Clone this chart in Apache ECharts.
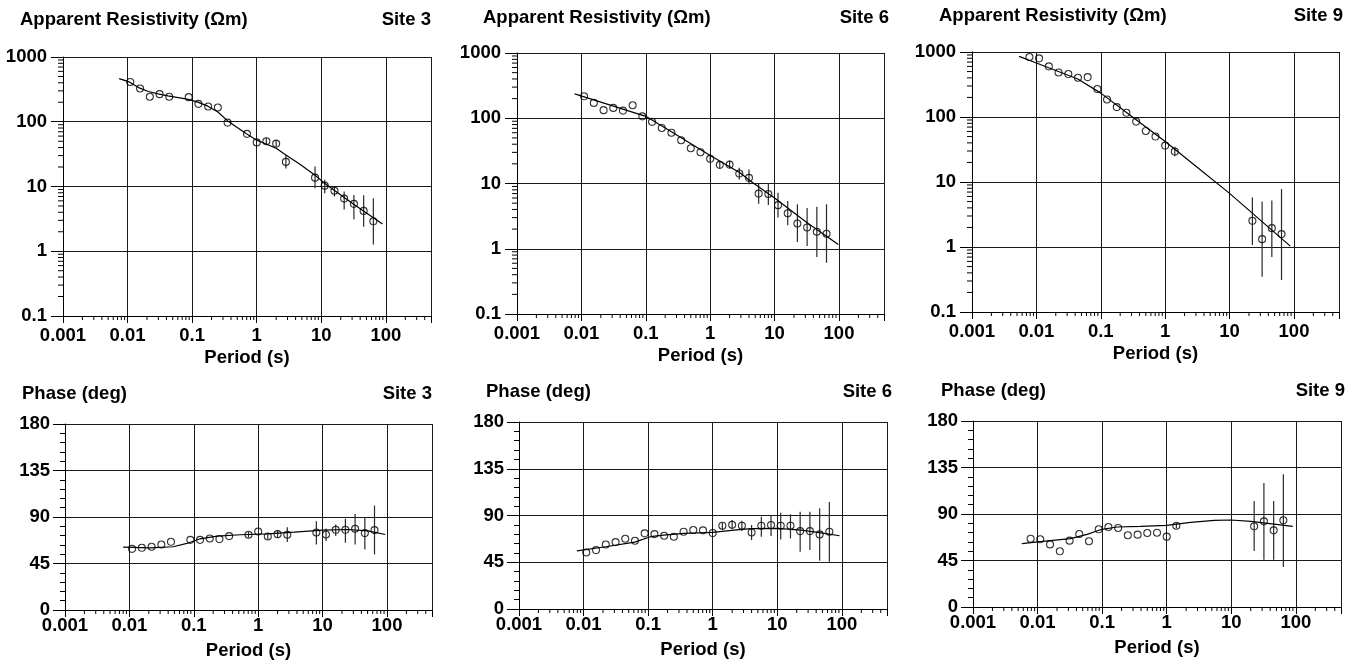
<!DOCTYPE html>
<html><head><meta charset="utf-8">
<script src="https://cdn.jsdelivr.net/npm/echarts@6/dist/echarts.min.js"></script>
<style>html,body{margin:0;padding:0;background:#fff}#c{width:1363px;height:668px}</style>
</head><body><div id="c"></div>
<script>
// ---------- tick labels ----------
const xTickLabels = ['0.001','0.01','0.1','1','10','100'];
const rhoTickLabels = ['0.1','1','10','100','1000'];
const phaseTickLabels = ['0','45','90','135','180'];
const siteNames = ['Site 3','Site 6','Site 9'];

// ---------- Site 3 ----------
const site3Periods = [0.011,0.0156,0.0221,0.0313,0.0442,0.0884,0.125,0.177,0.25,0.354,0.707,1,1.41,2,2.83,8,11.3,16,22.6,32,45.3,64];
const site3Rho = [412,326,243,267,243,240,189,172,166,97,65,48,50,46,24,13.7,10.3,8.6,6.5,5.4,4.2,2.9];
const site3RhoLow = [null,null,null,null,null,null,null,null,null,null,null,null,45,41,19,9.4,7.9,7.0,4.4,3.1,2.4,1.27];
const site3RhoHigh = [null,null,null,null,null,null,null,null,null,null,null,null,56,52,30.7,20.3,12.7,9.8,8.4,7.4,7.3,6.6];
const site3Phase = [59.2,60.2,61.2,63.4,66.0,67.9,67.9,69.2,68.6,71.5,72.8,76.0,71.2,73.4,72.8,75.0,73.1,77.6,77.6,78.6,74.4,77.3];
const site3PhaseLow = [null,null,null,null,null,null,null,null,null,null,70,null,68,70,65.7,63.4,66.7,71.5,65,63.4,58.6,53.8];
const site3PhaseHigh = [null,null,null,null,null,null,null,null,null,null,75.5,null,74.5,77,80.2,86,78.9,82.8,88.2,93,89.2,101];
const site3CurveT = [0.00741,0.0106,0.0148,0.021,0.0297,0.042,0.084,0.1225,0.175,0.248,0.351,0.682,1,2,2.83,4.85,7.9,11.2,31.3,88.7];
const site3CurveRho = [464,412,337,293,270,251,223,201,174,143,104,66,52,39,30.7,21.5,15.1,11.2,5.35,2.64];
const site3CurvePhaseT = [0.008,0.0208,0.048,0.078,0.126,0.229,0.53,1.38,3.61,10.1,24.6,50.5,94];
const site3CurvePhase = [60.9,60.2,61.2,64.4,68.9,71.5,72.8,73.7,75.3,77.3,77.9,76.6,73.1];

// ---------- Site 6 ----------
const site6Periods = [0.011,0.0156,0.0221,0.0313,0.0442,0.0625,0.0884,0.125,0.177,0.25,0.354,0.5,0.707,1,1.41,2,2.83,4,5.66,8,11.3,16,22.6,32,45.3,64];
const site6Rho = [217,172,133,144,131,158,107,88,71,60,46,34.7,30.2,23.9,19.3,19.5,14.2,12.2,7.0,6.9,4.66,3.5,2.44,2.12,1.82,1.70];
const site6RhoLow = [null,null,null,null,null,null,null,null,null,null,null,null,null,21,17,17,11.5,9.7,4.9,4.7,3.0,2.3,1.27,1.1,0.75,0.61];
const site6RhoHigh = [null,null,null,null,null,null,null,null,null,null,null,null,null,27,22,22.5,17.4,16.4,10,10,7.2,5.4,4.8,4.2,4.4,4.8];
const site6Phase = [54.4,56.7,62.1,64.4,67.6,65.7,72.8,72.1,70.5,69.6,74.4,76.0,75.7,73.1,80.2,81.1,80.2,73.7,80.2,80.8,80.2,80.2,75.0,75.0,71.8,74.4];
const site6PhaseLow = [null,null,null,null,null,null,null,null,null,null,null,null,null,null,76,77,75,66.3,69.6,70.2,67,68,55,56.7,46.4,45.4];
const site6PhaseHigh = [null,null,null,null,null,null,null,null,null,null,null,null,null,null,83,85.7,85,80.8,88.9,90.5,92.7,91.1,93.7,93.7,96.9,103];
const site6CurveT = [0.00787,0.1,0.25,1,2.94,4.2,10,32,97.7];
const site6CurveRho = [236,107,62,26.9,14.5,10.9,6.0,2.5,1.16];
const site6CurvePhaseT = [0.00787,0.0219,0.062,0.109,0.175,0.358,1,2.14,3.9,10,23.3,42.4,92];
const site6CurvePhase = [56.0,59.9,64.4,69.6,71.2,72.8,73.7,76.0,77.3,77.6,76.0,73.7,70.5];

// ---------- Site 9 ----------
const site9Periods = [0.0078,0.011,0.0156,0.0221,0.0313,0.0442,0.0625,0.0884,0.125,0.177,0.25,0.354,0.5,0.707,1,1.41,22.6,32,45.3,64];
const site9Rho = [837,799,601,485,458,402,411,269,186,142,116,85,61,50,36.3,29.4,2.53,1.32,1.95,1.58];
const site9RhoLow = [null,null,null,null,null,null,null,null,null,null,null,null,null,null,null,25,1.07,0.35,0.70,0.31];
const site9RhoHigh = [null,null,null,null,null,null,null,null,null,null,null,null,null,null,null,35,5.8,5.0,5.2,7.8];
const site9Phase = [66.1,65.5,60.6,53.9,64.2,70.6,63.6,75.2,77.4,76.5,69.4,70.0,71.6,71.9,68.1,78.7,78.1,82.9,74.2,83.9];
const site9PhaseLow = [null,null,null,null,null,null,null,null,null,null,null,null,null,null,null,76,54.2,45.8,45.8,38.7];
const site9PhaseHigh = [null,null,null,null,null,null,null,null,null,null,null,null,null,null,null,81.5,102.6,120,102.6,128.4];
const site9CurveT = [0.00538,0.01,0.044,0.1,0.3,1,3,10,30,87.7];
const site9CurveRho = [858,676,384,233,102.7,41.9,17.5,6.68,2.59,1.03];
const site9CurvePhaseT = [0.0057,0.011,0.0322,0.0585,0.094,0.171,0.394,1,2.36,5.44,9.88,20.2,36.7,89.8];
const site9CurvePhase = [61.3,63.2,66.1,70.3,74.8,77.4,78.1,79.0,81.9,83.9,84.2,82.9,81.0,78.1];

// ---------- layout / style ----------
const FONT = 'Liberation Sans, Arial, Helvetica, sans-serif';
const FS = 18.5;
const layout = [
  {left:63, top:57, width:368, height:259},
  {left:517, top:53, width:367, height:261},
  {left:972, top:52, width:367, height:260},
  {left:65, top:424, width:367, height:186},
  {left:519, top:422, width:368, height:187},
  {left:973, top:421, width:368, height:186}
];
const titlePos = [
  {lx:20, rx:431, y:20}, {lx:483, rx:889, y:18}, {lx:939, rx:1343, y:16},
  {lx:22, rx:432, y:394}, {lx:486, rx:892, y:392}, {lx:941, rx:1345, y:391}
];

const sites = [
  {T:site3Periods, rho:site3Rho, rl:site3RhoLow, rh:site3RhoHigh, ph:site3Phase, pl:site3PhaseLow, phh:site3PhaseHigh, cT:site3CurveT, cR:site3CurveRho, cpT:site3CurvePhaseT, cP:site3CurvePhase},
  {T:site6Periods, rho:site6Rho, rl:site6RhoLow, rh:site6RhoHigh, ph:site6Phase, pl:site6PhaseLow, phh:site6PhaseHigh, cT:site6CurveT, cR:site6CurveRho, cpT:site6CurvePhaseT, cP:site6CurvePhase},
  {T:site9Periods, rho:site9Rho, rl:site9RhoLow, rh:site9RhoHigh, ph:site9Phase, pl:site9PhaseLow, phh:site9PhaseHigh, cT:site9CurveT, cR:site9CurveRho, cpT:site9CurvePhaseT, cP:site9CurvePhase}
];

function logLabel(labels, offset) {
  return function (v) {
    const l = Math.log10(v), e = Math.round(l);
    if (Math.abs(l - e) > 1e-6) return '';
    const s = labels[e + offset];
    return s === undefined ? '' : s;
  };
}
const labelStyle = {color:'#000', fontSize:FS, fontWeight:'bold', fontFamily:FONT};
const gridLine = {show:true, lineStyle:{color:'#1a1a1a', width:1, type:'solid'}};
const axisLine = {show:true, onZero:false, lineStyle:{color:'#000', width:1}};

const grids = [], xAxes = [], yAxes = [], series = [], graphics = [];

// minor tick values (axis decoration)
const xMinor = [], rhoMinor = [];
for (let k = -3; k <= 2; k++) for (let m = 2; m <= 9; m++) { const v = m * Math.pow(10, k); if (v < 500) xMinor.push(+v.toPrecision(3)); }
for (let k = -1; k <= 2; k++) for (let m = 2; m <= 9; m++) rhoMinor.push(+(m * Math.pow(10, k)).toPrecision(3));

function minorTickSeries(idx, vals, isX, yMin, len) {
  return {
    type:'custom', xAxisIndex:idx, yAxisIndex:idx, silent:true, clip:false, z:5,
    data: vals.map(v => isX ? [v, yMin] : [0.001, v]),
    renderItem: function (params, api) {
      const p = api.coord([api.value(0), api.value(1)]);
      const shape = isX ? {x1:p[0], y1:p[1], x2:p[0], y2:p[1] + len} : {x1:p[0] - len, y1:p[1], x2:p[0], y2:p[1]};
      return {type:'line', shape:shape, style:{stroke:'#000', lineWidth:1}};
    }
  };
}
function errSeries(idx, T, lo, hi) {
  const d = [];
  T.forEach((t, i) => { if (lo[i] != null && hi[i] != null) d.push([t, lo[i], hi[i]]); });
  return {
    type:'custom', xAxisIndex:idx, yAxisIndex:idx, silent:true, z:3,
    encode:{x:0, y:[1,2]}, data:d,
    renderItem: function (params, api) {
      const a = api.coord([api.value(0), api.value(1)]);
      const b = api.coord([api.value(0), api.value(2)]);
      return {type:'line', shape:{x1:a[0], y1:a[1], x2:b[0], y2:b[1]}, style:{stroke:'#2a2a2a', lineWidth:1.2}};
    }
  };
}

for (let i = 0; i < 6; i++) {
  const isPhase = i >= 3;
  const s = sites[i % 3];
  grids.push(Object.assign({containLabel:false}, layout[i]));
  xAxes.push({
    type:'log', logBase:10, gridIndex:i, min:0.001, max:500,
    axisLine:axisLine,
    axisTick:{show:true, length:7, lineStyle:{color:'#000', width:1}},
    axisLabel:Object.assign({formatter:logLabel(xTickLabels, 3), margin:isPhase ? 6 : 10, showMinLabel:true, showMaxLabel:true}, labelStyle),
    splitLine:gridLine,
    name:'Period (s)', nameLocation:'middle', nameGap:isPhase ? 31 : 32,
    nameTextStyle:labelStyle
  });
  if (!isPhase) {
    yAxes.push({
      type:'log', logBase:10, gridIndex:i, min:0.1, max:1000,
      axisLine:axisLine,
      axisTick:{show:true, length:12, lineStyle:{color:'#000', width:1}},
      axisLabel:Object.assign({formatter:logLabel(rhoTickLabels, 1), margin:16}, labelStyle),
      splitLine:gridLine
    });
  } else {
    yAxes.push({
      type:'value', gridIndex:i, min:0, max:180, interval:45,
      axisLine:axisLine,
      axisTick:{show:true, length:12, lineStyle:{color:'#000', width:1}},
      minorTick:{show:true, splitNumber:5, length:5, lineStyle:{color:'#000', width:1}},
      axisLabel:Object.assign({formatter:(v) => phaseTickLabels[Math.round(v / 45)] || '', margin:15}, labelStyle),
      splitLine:gridLine
    });
  }
  // minor ticks
  series.push(minorTickSeries(i, xMinor, true, isPhase ? 0 : 0.1, 4));
  if (!isPhase) series.push(minorTickSeries(i, rhoMinor, false, 0, 5));
  // model curve
  const cx = isPhase ? s.cpT : s.cT, cy = isPhase ? s.cP : s.cR;
  series.push({
    type:'line', xAxisIndex:i, yAxisIndex:i, silent:true, showSymbol:false, symbol:'none',
    smooth:false, z:4,
    lineStyle:{color:'#000', width:1.2},
    data:cx.map((t, k) => [t, cy[k]])
  });
  // error bars
  series.push(isPhase ? errSeries(i, s.T, s.pl, s.phh) : errSeries(i, s.T, s.rl, s.rh));
  // data points
  const vals = isPhase ? s.ph : s.rho;
  series.push({
    type:'scatter', xAxisIndex:i, yAxisIndex:i, silent:true, symbol:'circle', symbolSize:7, z:6,
    itemStyle:{color:'rgba(255,255,255,0)', borderColor:'#000', borderWidth:1.1},
    data:s.T.map((t, k) => [t, vals[k]])
  });
  // titles
  const tp = titlePos[i];
  graphics.push({type:'text', x:tp.lx, y:tp.y, style:{text:isPhase ? 'Phase (deg)' : 'Apparent Resistivity (\u03A9m)', fill:'#000', font:'bold ' + FS + 'px ' + FONT, align:'left', verticalAlign:'middle'}});
  graphics.push({type:'text', x:tp.rx, y:tp.y, style:{text:siteNames[i % 3], fill:'#000', font:'bold ' + FS + 'px ' + FONT, align:'right', verticalAlign:'middle'}});
}

const chart = echarts.init(document.getElementById('c'), null, {renderer:'canvas'});
chart.setOption({
  animation:false,
  backgroundColor:'#fff',
  grid:grids, xAxis:xAxes, yAxis:yAxes, series:series, graphic:graphics
});
</script></body></html>
